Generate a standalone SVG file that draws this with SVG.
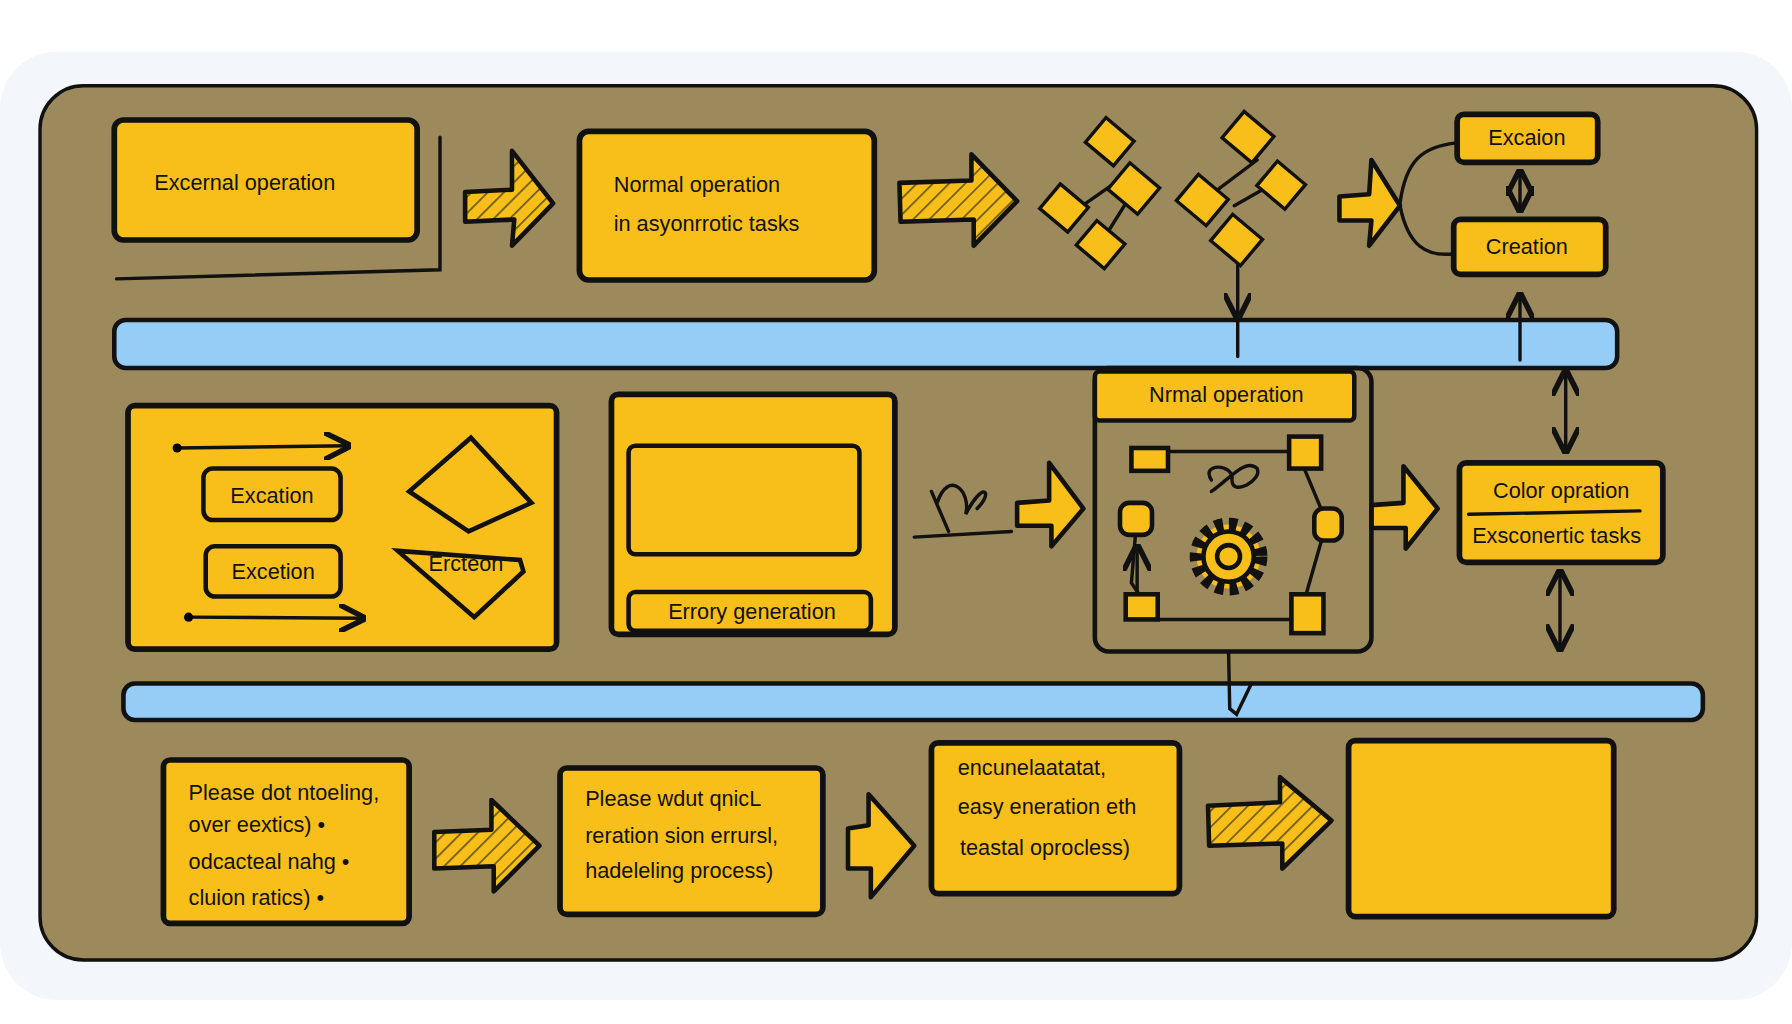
<svg xmlns="http://www.w3.org/2000/svg" width="1792" height="1024" viewBox="0 0 1792 1024">
<defs>
<style>
.b{fill:#f8bf1a;stroke:#111;stroke-width:5;stroke-linejoin:round}
.bt{fill:#f8bf1a;stroke:#111;stroke-width:4}
.ln{fill:none;stroke:#111;stroke-width:3;stroke-linecap:round}
.band{fill:#95cdf7;stroke:#111;stroke-width:4}
.t{font-family:"Liberation Sans",sans-serif;font-size:19px;fill:#111}
.ar{fill:#f8bf1a;stroke:#111;stroke-width:4;stroke-linejoin:round}
.h{fill:url(#hatch);stroke:#111;stroke-width:4;stroke-linejoin:round}
</style>
<pattern id="hatch" width="10" height="10" patternUnits="userSpaceOnUse" patternTransform="rotate(45)">
<rect width="10" height="10" fill="#f8bf1a"/><line x1="0" y1="0" x2="0" y2="10" stroke="#6b5a1a" stroke-width="3"/>
</pattern>
<marker id="ah" viewBox="0 0 10 10" refX="9" refY="5" markerWidth="8" markerHeight="8" orient="auto-start-reverse"><path d="M0,0 L10,5 L0,10" fill="none" stroke="#111" stroke-width="2"/></marker>
</defs>
<g transform="scale(1.142857)">
<rect x="0" y="45" width="1568" height="830" rx="50" fill="#f3f7fb"/>
<rect x="35" y="75" width="1502" height="765" rx="38" fill="#9c8a5d" stroke="#111" stroke-width="3"/>
<rect class="band" x="100" y="280" width="1315" height="42" rx="10"/>
<rect class="band" x="108" y="598" width="1382" height="32" rx="10"/>

<g id="connectors">
<path class="ln" d="M102,244 L385,236 L385,120"/>
<path class="h" d="M407,168 L448,166 L448,132 L484,178 L448,215 L450,192 L407,194 Z"/>
<path class="h" d="M787,160 L850,158 L850,135 L890,176 L852,215 L852,192 L788,194 Z"/>
<path class="ar" d="M1172,172 L1198,170 L1200,140 L1225,180 L1198,215 L1200,193 L1172,193 Z"/>
<path class="ln" d="M1225,178 C1230,140 1245,128 1275,125 M1225,180 C1232,215 1248,225 1272,222"/>
<path class="ln" d="M1330,150 L1330,184" marker-start="url(#ah)" marker-end="url(#ah)"/>
<path class="ln" d="M1083,232 L1083,312 M1083,240 L1083,278" marker-end="url(#ah)"/>
<path class="ln" d="M1330,315 L1330,258" marker-end="url(#ah)"/>
<path class="ln" d="M1370,325 L1370,395" marker-start="url(#ah)" marker-end="url(#ah)"/>
<path class="ln" d="M1365,500 L1365,568" marker-start="url(#ah)" marker-end="url(#ah)"/>
<path class="ln" d="M800,470 L885,465 M820,440 C830,410 850,430 845,450 C860,420 870,430 855,445 M815,430 L830,465"/>
<path class="ar" d="M890,440 L918,438 L918,405 L948,445 L920,478 L920,460 L890,460 Z"/>
<path class="ar" d="M1200,442 L1228,440 L1228,408 L1258,445 L1230,480 L1230,462 L1200,462 Z"/>
<path class="ln" d="M1075,570 L1076,620 L1082,625 L1095,598"/>
<path class="h" d="M380,728 L430,726 L430,700 L472,740 L432,780 L432,758 L380,760 Z"/>
<path class="ar" d="M742,725 L760,722 L760,695 L800,740 L762,785 L762,760 L742,760 Z"/>
<path class="h" d="M1057,705 L1120,702 L1120,680 L1165,718 L1122,760 L1122,738 L1058,740 Z"/>
</g>

<g id="n1"><rect class="b" x="100" y="105" width="265" height="105" rx="8"/><text class="t" x="135" y="166" font-size="22">Excernal operation</text></g>
<g id="n2"><rect class="b" x="507" y="115" width="258" height="130" rx="8"/><text class="t" x="537" y="168">Normal operation</text><text class="t" x="537" y="202">in  asyonrrotic tasks</text></g>
<g id="diamonds" stroke="#111" stroke-width="3" fill="#f8bf1a">
<path class="ln" d="M950,178 L990,150 M965,210 L990,170 M1060,170 L1100,140 M1080,180 L1115,160 M1080,195 L1085,230"/>
<rect x="955" y="110" width="32" height="28" transform="rotate(40 971 124)"/>
<rect x="915" y="168" width="32" height="28" transform="rotate(40 931 182)"/>
<rect x="975" y="150" width="34" height="30" transform="rotate(40 992 165)"/>
<rect x="947" y="200" width="32" height="28" transform="rotate(40 963 214)"/>
<rect x="1075" y="105" width="34" height="30" transform="rotate(40 1092 120)"/>
<rect x="1035" y="160" width="34" height="30" transform="rotate(40 1052 175)"/>
<rect x="1105" y="148" width="32" height="28" transform="rotate(40 1121 162)"/>
<rect x="1065" y="195" width="34" height="30" transform="rotate(40 1082 210)"/>
</g>
<g id="n3"><rect class="b" x="1275" y="100" width="123" height="42" rx="6"/><text class="t" x="1336" y="127" text-anchor="middle">Excaion</text></g>
<g id="n4"><rect class="b" x="1272" y="192" width="133" height="48" rx="6"/><text class="t" x="1336" y="222" text-anchor="middle">Creation</text></g>

<g id="n5"><rect class="b" x="112" y="355" width="375" height="213" rx="6"/>
<path class="ln" d="M155,392 L305,390" marker-end="url(#ah)"/><circle cx="155" cy="392" r="4"/>
<path class="ln" d="M165,540 L318,541" marker-end="url(#ah)"/><circle cx="165" cy="540" r="4"/>
<rect class="bt" x="178" y="410" width="120" height="45" rx="8"/><text class="t" x="238" y="440" text-anchor="middle" font-size="21">Excation</text>
<rect class="bt" x="180" y="478" width="118" height="44" rx="8"/><text class="t" x="239" y="507" text-anchor="middle" font-size="21">Excetion</text>
<path class="bt" d="M358,430 L412,383 L465,440 L410,465 Z"/>
<path class="bt" d="M348,482 L455,490 L458,500 L415,540 Z"/>
<text class="t" x="375" y="500" font-size="15">Ercteon</text></g>

<g id="n6"><rect class="b" x="535" y="345" width="248" height="210" rx="6"/>
<rect class="bt" x="550" y="390" width="202" height="95" rx="6"/>
<rect class="bt" x="550" y="518" width="212" height="34" rx="6"/><text class="t" x="658" y="542" text-anchor="middle">Errory generation</text></g>

<g id="n7"><rect x="958" y="322" width="242" height="248" rx="12" fill="none" stroke="#111" stroke-width="4"/>
<rect class="bt" x="958" y="325" width="227" height="43" rx="4"/><text class="t" x="1073" y="352" text-anchor="middle">Nrmal operation</text>
<path class="ln" d="M1010,395 L1135,395 M1135,395 L1160,455 M995,450 L990,510 L1000,525 M1010,542 L1135,542 M1160,460 L1140,530"/>
<path class="ln" d="M995,520 L995,478" marker-end="url(#ah)"/>
<rect class="bt" x="990" y="392" width="32" height="20"/><rect class="bt" x="1128" y="382" width="28" height="28"/>
<rect class="bt" x="980" y="440" width="28" height="28" rx="8"/><rect class="bt" x="1150" y="445" width="24" height="28" rx="8"/>
<rect class="bt" x="985" y="520" width="28" height="22"/><rect class="bt" x="1130" y="520" width="28" height="34"/>
<path class="ln" d="M1060,420 C1050,405 1080,405 1078,420 C1078,435 1105,420 1100,410 C1090,400 1075,420 1060,430"/>
<circle cx="1075" cy="487" r="28" fill="#f8bf1a" stroke="#111" stroke-width="12" stroke-dasharray="7 5"/>
<circle cx="1075" cy="487" r="22" fill="#f8bf1a" stroke="#111" stroke-width="4"/>
<circle cx="1075" cy="487" r="10" fill="#f8bf1a" stroke="#111" stroke-width="4"/></g>

<g id="n8"><rect class="b" x="1277" y="405" width="178" height="87" rx="6"/>
<path class="ln" d="M1285,450 L1435,447"/>
<text class="t" x="1366" y="436" text-anchor="middle">Color opration</text>
<text class="t" x="1362" y="475" text-anchor="middle">Exsconertic tasks</text></g>

<g id="n9"><rect class="b" x="143" y="665" width="215" height="143" rx="6"/>
<text class="t" x="165" y="700" font-size="17">Please dot  ntoeling,</text>
<text class="t" x="165" y="728" font-size="17">over eextics)    •</text>
<text class="t" x="165" y="760" font-size="17">odcacteal  nahg    •</text>
<text class="t" x="165" y="792" font-size="17">cluion ratics)     •</text></g>
<g id="n10"><rect class="b" x="490" y="672" width="230" height="128" rx="6"/>
<text class="t" x="512" y="705" font-size="22">Please  wdut  qnicL</text>
<text class="t" x="512" y="738">reration sion errursl,</text>
<text class="t" x="512" y="768" font-size="21">hadeleling process)</text></g>
<g id="n11"><rect class="b" x="815" y="650" width="217" height="132" rx="6"/>
<text class="t" x="838" y="678" font-size="16">encunelaatatat,</text>
<text class="t" x="838" y="712">easy  eneration  eth</text>
<text class="t" x="840" y="748">teastal  oprocless)</text></g>
<g id="n12"><rect class="b" x="1180" y="648" width="232" height="154" rx="6"/></g>
</g>
</svg>
